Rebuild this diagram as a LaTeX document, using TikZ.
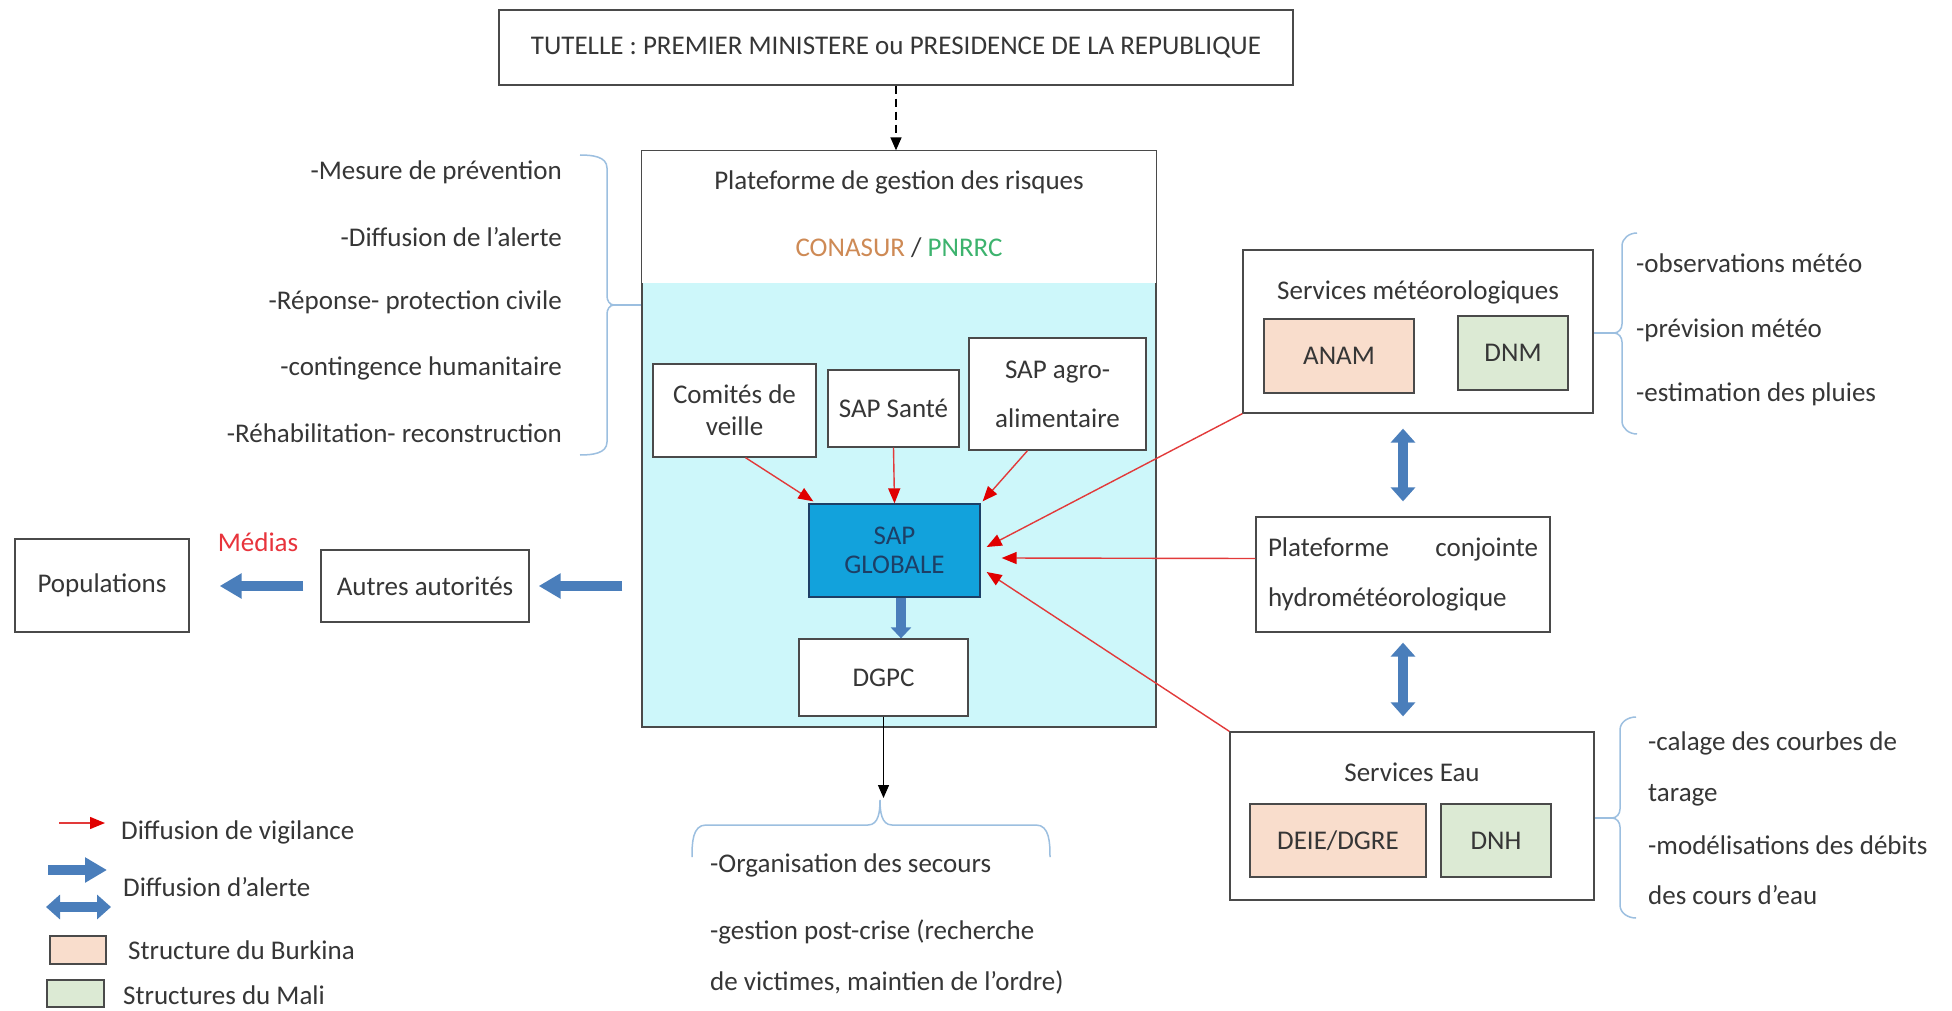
\documentclass[tikz,border=0pt]{standalone}
\usepackage{fontspec}
\setmainfont{Carlito}
\usetikzlibrary{arrows.meta,calc}
\definecolor{txt}{HTML}{363636}
\definecolor{boxc}{HTML}{4A4A4A}
\definecolor{cyanf}{HTML}{CDF7FA}
\definecolor{sapblue}{HTML}{12A2DC}
\definecolor{sapdark}{HTML}{1D3F66}
\definecolor{alertblue}{HTML}{4A7EBB}
\definecolor{vigred}{HTML}{E23A3A}
\definecolor{redtip}{HTML}{E00000}
\definecolor{peach}{HTML}{F9DDCC}
\definecolor{mint}{HTML}{DCEAD4}
\definecolor{bracec}{HTML}{9CBFE0}
\definecolor{conasurc}{HTML}{CE8A55}
\definecolor{pnrrcc}{HTML}{3DB36E}
\definecolor{medias}{HTML}{E8343C}
\begin{document}
\begin{tikzpicture}[x=1pt,y=-1pt,
  every node/.style={text=txt, font=\fontsize{27}{32}\selectfont},
  box/.style={draw=boxc, line width=1.3pt, fill=white, inner sep=0pt, align=center},
  lbl/.style={inner sep=0pt},
  bracestyle/.style={draw=bracec, line width=1.5pt},
  redarrow/.style={draw=vigred, line width=1.4pt, -{Triangle[length=15pt,width=12pt,color=redtip]}},
  alertarrow/.style={draw=alertblue, line width=10pt, -{Triangle[length=22pt,width=24pt]}},
  alertshort/.style={draw=alertblue, line width=10pt, -{Triangle[length=11pt,width=20pt]}},
  alertdouble/.style={draw=alertblue, line width=10pt, {Triangle[length=14pt,width=24pt]}-{Triangle[length=14pt,width=24pt]}},
  blackarrow/.style={draw=black, line width=1.4pt, -{Triangle[length=13pt,width=11pt]}}
]
\useasboundingbox (0,0) rectangle (1952,1011);
\fill[white] (0,0) rectangle (1952,1011);

% ---------- top ----------
\node[box, minimum width=794pt, minimum height=75pt] (tut) at (896,47.5)
  {TUTELLE : PREMIER MINISTERE ou PRESIDENCE DE LA REPUBLIQUE};

% ---------- platform ----------
\node[box, fill=cyanf, minimum width=514pt, minimum height=576pt] (plat) at (899,439) {};
\coordinate (whiteline) at (0,283);
\fill[white] ([shift={(0.9pt,-0.9pt)}]plat.north west) rectangle ([xshift=-0.9pt]plat.north east |- whiteline);
\node[lbl] (ptitle) at (899,182) {Plateforme de gestion des risques};
\node[lbl] (conasur) at (899,248) {\textcolor{conasurc}{CONASUR} / \textcolor{pnrrcc}{PNRRC}};

\node[box, minimum width=163pt, minimum height=93pt] (comites) at (734.5,410.5) {Comités de\\veille};
\node[box, minimum width=131pt, minimum height=77pt] (sante) at (893.5,408.5) {SAP Santé};
\node[box, minimum width=177pt, minimum height=112pt] (agro) at (1057.5,394) {SAP agro-\\[17pt]alimentaire};
\node[box, fill=sapblue, draw=sapdark, minimum width=171pt, minimum height=93pt, text=sapdark] (sapg) at (894.5,550.5) {SAP\\[-3pt]GLOBALE};
\node[box, minimum width=169pt, minimum height=77pt] (dgpc) at (883.5,677.5) {DGPC};

% ---------- left ----------
\node[box, minimum width=174pt, minimum height=93pt] (pop) at (102,585.5) {Populations};
\node[box, minimum width=208pt, minimum height=72pt] (aut) at (425,586) {Autres autorités};
\node[lbl, text=medias] (medias) at (258,542) {Médias};

\node[lbl, anchor=east] (l1) at (562,172) {-Mesure de prévention};
\node[lbl, anchor=east] (l2) at (562,237) {-Diffusion de l’alerte};
\node[lbl, anchor=east] (l3) at (562,302) {-Réponse- protection civile};
\node[lbl, anchor=east] (l4) at (562,368) {-contingence humanitaire};
\node[lbl, anchor=east] (l5) at (562,433) {-Réhabilitation- reconstruction};

% ---------- right ----------
\node[box, minimum width=350pt, minimum height=163pt] (meteo) at (1418,331.5) {};
\node[lbl] (mtitle) at (1418,292) {Services météorologiques};
\node[box, fill=peach, minimum width=150pt, minimum height=74pt] (anam) at (1339,356) {ANAM};
\node[box, fill=mint, minimum width=110pt, minimum height=74pt] (dnm) at (1513,353) {DNM};

\node[box, minimum width=294pt, minimum height=115pt, text width=270pt, align=left] (conj) at (1403,574.5)
  {Plateforme\hfill conjointe\\[18pt]hydrométéorologique};

\node[box, minimum width=364pt, minimum height=168pt] (eau) at (1412,816) {};
\node[lbl] (etitle) at (1412,772) {Services Eau};
\node[box, fill=peach, minimum width=176pt, minimum height=73pt] (deie) at (1338,840.5) {DEIE/DGRE};
\node[box, fill=mint, minimum width=110pt, minimum height=73pt] (dnh) at (1496,840.5) {DNH};

\node[lbl, anchor=west] (m1) at (1636,263) {-observations météo};
\node[lbl, anchor=west] (m2) at (1636,330) {-prévision météo};
\node[lbl, anchor=west] (m3) at (1636,394) {-estimation des pluies};

\node[lbl, anchor=west] (e1) at (1648,743) {-calage des courbes de};
\node[lbl, anchor=west] (e2) at (1648,795) {tarage};
\node[lbl, anchor=west] (e3) at (1648,845) {-modélisations des débits};
\node[lbl, anchor=west] (e4) at (1648,895) {des cours d’eau};

% ---------- bottom ----------
\node[lbl, anchor=west] (b1) at (710,865) {-Organisation des secours};
\node[lbl, anchor=west] (b2) at (710,932) {-gestion post-crise (recherche};
\node[lbl, anchor=west] (b3) at (710,982) {de victimes, maintien de l’ordre)};

% ---------- braces ----------
\draw[bracestyle] (580,155) to[out=0,in=90] (607,168) -- (607,296) to[out=-90,in=180] (614,305)
  to[out=180,in=90] (607,314) -- (607,442) to[out=-90,in=0] (580,455);
\coordinate (lbtip) at (614,305);
\draw[bracestyle] (lbtip) -- (lbtip -| plat.west);

\draw[bracestyle] (1637,233) to[out=180,in=90] (1622,246) -- (1622,324) to[out=-90,in=0] (1614,333)
  to[out=0,in=90] (1622,342) -- (1622,421) to[out=-90,in=180] (1637,434);
\coordinate (mbtip) at (1614,333);
\draw[bracestyle] (mbtip) -- (mbtip -| meteo.east);

\draw[bracestyle] (1636,717) to[out=180,in=90] (1620,730) -- (1620,809) to[out=-90,in=0] (1612,818)
  to[out=0,in=90] (1620,827) -- (1620,905) to[out=-90,in=180] (1636,918);
\coordinate (ebtip) at (1612,818);
\draw[bracestyle] (ebtip) -- (ebtip -| eau.east);

\coordinate (brtip) at (880,798);
\draw[bracestyle] (692,857) to[out=90,in=180] (706,825) -- (868,825) to[out=0,in=-90] (880,800)
  to[out=-90,in=180] (892,825) -- (1036,825) to[out=0,in=90] (1050,857);

% ---------- connectors ----------
\draw[blackarrow, dash pattern=on 8pt off 5pt] (tut.south) -- (tut.south |- plat.north);
\draw[blackarrow] (dgpc.south) -- (dgpc.south |- brtip);

\draw[redarrow] ([xshift=11pt]comites.south) -- ([xshift=5pt,yshift=2pt]sapg.north west);
\draw[redarrow] (sante.south) -- (sapg.north);
\draw[redarrow] ([xshift=-30pt]agro.south) -- ([xshift=2pt,yshift=2pt]sapg.north east);
\draw[redarrow] (meteo.south west) -- ([xshift=6pt,yshift=3.5pt]sapg.east);
\draw[redarrow] ([yshift=16pt]conj.west) -- ([xshift=21pt,yshift=-7.5pt]sapg.east);
\draw[redarrow] (eau.north west) -- ([xshift=6pt,yshift=-21.5pt]sapg.east);

\draw[alertshort] ([xshift=6.5pt]sapg.south) -- ([xshift=17.5pt]dgpc.north);
\draw[alertarrow, shorten <=19pt, shorten >=9pt] (plat.west |- aut.east) -- (aut.east);
\draw[alertarrow, shorten <=17pt, shorten >=30pt] (aut.west) -- (aut.west -| pop.east);
\draw[alertdouble, shorten <=15pt, shorten >=15pt] (conj.north |- meteo.south) -- (conj.north);
\draw[alertdouble, shorten <=10pt, shorten >=15pt] (conj.south) -- (conj.south |- eau.north);

% ---------- legend ----------
\coordinate (lr1) at (59,823); \coordinate (lr2) at (105,823);
\draw[redarrow] (lr1) -- (lr2);
\coordinate (lb1) at (48,870); \coordinate (lb2) at (107,870);
\draw[alertarrow] (lb1) -- (lb2);
\coordinate (ld1) at (46,907); \coordinate (ld2) at (111,907);
\draw[alertdouble] (ld1) -- (ld2);
\node[box, fill=peach, minimum width=56pt, minimum height=28pt] (lgp) at (78,950) {};
\node[box, fill=mint, minimum width=57pt, minimum height=27pt] (lgm) at (75.5,993.5) {};
\node[lbl, anchor=west] (lt1) at (121,832) {Diffusion de vigilance};
\node[lbl, anchor=west] (lt2) at (123,887) {Diffusion d’alerte};
\node[lbl, anchor=west] (lt3) at (128,950) {Structure du Burkina};
\node[lbl, anchor=west] (lt4) at (123,995) {Structures du Mali};
\end{tikzpicture}
\end{document}
